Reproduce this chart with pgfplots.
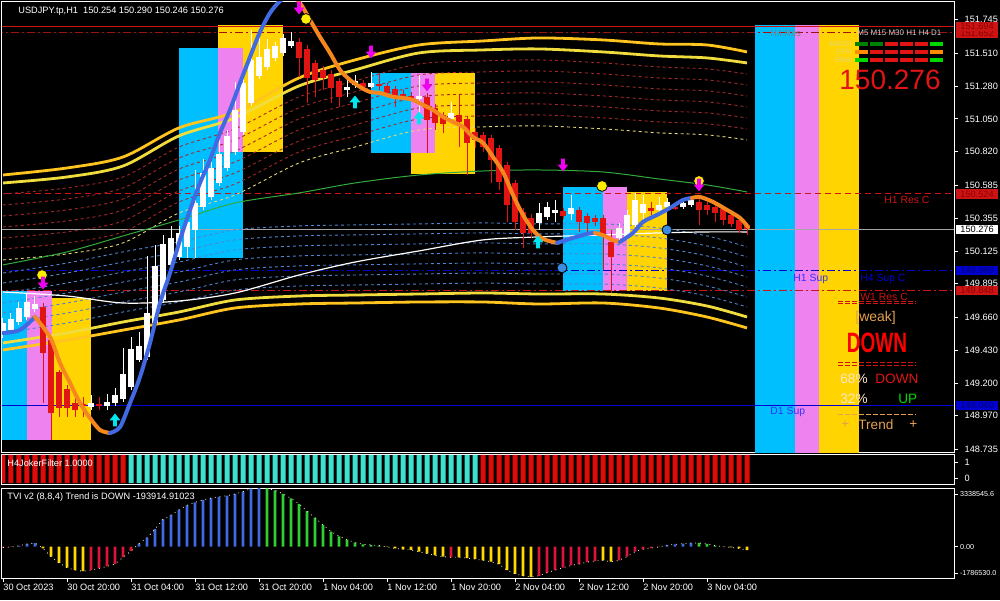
\documentclass[border=0pt]{standalone}
\usepackage{fontspec}
\setmainfont{Liberation Sans}
\usepackage{graphicx}
\usepackage{pgfplots}
\usepackage{pgfplotstable}
\pgfplotsset{compat=1.18}

\definecolor{bxblue}{RGB}{0,191,255}
\definecolor{bxmag}{RGB}{238,130,238}
\definecolor{bxyel}{RGB}{255,212,0}
\definecolor{cred}{RGB}{225,20,20}
\definecolor{ylw}{RGB}{255,196,30}
\definecolor{ylw2}{RGB}{240,220,60}
\definecolor{bdred}{RGB}{165,40,40}
\definecolor{bdyel}{RGB}{230,215,120}
\definecolor{bdblue}{RGB}{80,130,205}
\definecolor{mgreen}{RGB}{50,170,60}
\definecolor{lvred}{RGB}{205,20,20}
\definecolor{lvblue}{RGB}{0,0,210}
\definecolor{crvblue}{RGB}{65,105,225}
\definecolor{crvorg}{RGB}{245,135,30}
\definecolor{arrmag}{RGB}{240,0,240}
\definecolor{arrcyan}{RGB}{0,230,240}
\definecolor{dotblue}{RGB}{60,140,225}
\definecolor{tvred}{RGB}{220,20,60}
\definecolor{tvblue}{RGB}{65,105,225}
\definecolor{tvgreen}{RGB}{50,205,50}
\definecolor{tvyel}{RGB}{255,215,0}
\definecolor{jred}{RGB}{225,10,10}
\definecolor{jcyan}{RGB}{64,224,208}
\definecolor{tanc}{RGB}{230,160,80}

\newcommand\tk{\fontsize{4.6}{5.5}\selectfont}
\newcommand\tks{\fontsize{3.6}{4.5}\selectfont}

\pgfdeclareplotmark{dnarrow}{%
  \pgfpathmoveto{\pgfqpoint{-0.9pt}{3.2pt}}%
  \pgfpathlineto{\pgfqpoint{0.9pt}{3.2pt}}%
  \pgfpathlineto{\pgfqpoint{0.9pt}{0.2pt}}%
  \pgfpathlineto{\pgfqpoint{2.7pt}{0.2pt}}%
  \pgfpathlineto{\pgfqpoint{0pt}{-3.2pt}}%
  \pgfpathlineto{\pgfqpoint{-2.7pt}{0.2pt}}%
  \pgfpathlineto{\pgfqpoint{-0.9pt}{0.2pt}}%
  \pgfpathclose\pgfusepathqfill}
\pgfdeclareplotmark{uparrow}{%
  \pgfpathmoveto{\pgfqpoint{-0.9pt}{-3.2pt}}%
  \pgfpathlineto{\pgfqpoint{0.9pt}{-3.2pt}}%
  \pgfpathlineto{\pgfqpoint{0.9pt}{-0.2pt}}%
  \pgfpathlineto{\pgfqpoint{2.7pt}{-0.2pt}}%
  \pgfpathlineto{\pgfqpoint{0pt}{3.2pt}}%
  \pgfpathlineto{\pgfqpoint{-2.7pt}{-0.2pt}}%
  \pgfpathlineto{\pgfqpoint{-0.9pt}{-0.2pt}}%
  \pgfpathclose\pgfusepathqfill}

% H1 candles: bar index, open, high, low, close
\pgfplotstableread{
i o h l c
0 149.549 149.655 149.514 149.620
1 149.570 149.690 149.549 149.648
2 149.627 149.767 149.605 149.725
3 149.662 149.830 149.641 149.767
4 149.718 149.809 149.697 149.753
5 149.732 149.760 149.059 149.409
6 149.500 149.514 148.800 148.989
7 149.276 149.290 148.961 149.024
8 149.157 149.185 148.961 149.024
9 149.059 149.101 148.961 149.010
10 149.052 149.101 148.961 149.038
11 149.031 149.115 149.010 149.059
12 149.052 149.101 149.010 149.038
13 149.038 149.122 149.010 149.066
14 149.059 149.164 149.038 149.115
15 149.087 149.444 149.066 149.262
16 149.171 149.521 149.150 149.437
17 149.360 149.556 149.346 149.458
18 149.381 150.090 149.360 149.690
19 149.620 150.167 149.598 150.020
20 149.781 150.237 149.760 150.174
21 150.027 150.300 150.006 150.216
22 150.083 150.300 150.062 150.251
23 150.153 150.377 150.076 150.328
24 150.272 150.692 150.076 150.461
25 150.433 150.769 150.412 150.671
26 150.503 150.748 150.482 150.706
27 150.601 150.903 150.580 150.804
28 150.706 150.973 150.685 150.931
29 150.818 151.309 150.797 151.113
30 150.959 151.372 150.938 151.302
31 151.162 151.673 151.141 151.463
32 151.351 151.687 151.330 151.484
33 151.414 151.610 151.393 151.540
34 151.477 151.589 151.456 151.561
35 151.512 151.645 151.491 151.617
36 151.561 151.659 151.547 151.596
37 151.589 151.617 151.344 151.477
38 151.540 151.568 151.162 151.337
39 151.442 151.463 151.204 151.323
40 151.393 151.421 151.253 151.337
41 151.365 151.393 151.162 151.267
42 151.316 151.337 151.134 151.204
43 151.253 151.337 151.204 151.274
44 151.288 151.358 151.267 151.316
45 151.302 151.323 151.253 151.274
46 151.274 151.379 151.267 151.302
47 151.295 151.372 151.253 151.281
48 151.281 151.302 151.211 151.232
49 151.260 151.281 151.134 151.204
50 151.225 151.253 151.183 151.204
51 151.211 151.239 151.183 151.197
52 151.190 151.358 151.078 151.211
53 151.204 151.232 150.811 151.043
54 151.127 151.155 150.973 151.022
55 151.078 151.099 150.952 151.015
56 151.050 151.169 151.022 151.092
57 151.078 151.218 150.853 151.029
58 151.050 151.071 150.657 150.882
59 150.959 150.987 150.846 150.903
60 150.938 150.959 150.818 150.853
61 150.917 150.938 150.601 150.762
62 150.846 150.868 150.552 150.608
63 150.727 150.748 150.328 150.447
64 150.601 150.622 150.272 150.328
65 150.398 150.426 150.146 150.251
66 150.356 150.384 150.216 150.251
67 150.321 150.461 150.272 150.391
68 150.363 150.468 150.342 150.433
69 150.391 150.482 150.328 150.412
70 150.405 150.426 150.349 150.370
71 150.384 150.517 150.342 150.426
72 150.412 150.433 150.258 150.328
73 150.370 150.391 150.258 150.321
74 150.356 150.377 150.300 150.328
75 150.356 150.377 149.992 150.237
76 150.188 150.272 149.830 150.083
77 150.216 150.321 150.188 150.286
78 150.223 150.412 150.202 150.377
79 150.307 150.531 150.286 150.482
80 150.391 150.517 150.342 150.454
81 150.426 150.468 150.377 150.405
82 150.412 150.503 150.391 150.447
83 150.433 150.496 150.412 150.468
84 150.433 150.461 150.412 150.419
85 150.433 150.468 150.419 150.461
86 150.447 150.496 150.433 150.482
87 150.468 150.489 150.307 150.412
88 150.447 150.468 150.377 150.412
89 150.433 150.447 150.328 150.391
90 150.419 150.433 150.307 150.342
91 150.377 150.391 150.293 150.314
92 150.342 150.356 150.251 150.272
93 150.307 150.321 150.237 150.276
}\candles

% envelope bands: outer/inner upper, dashed upper levels, centre, white MA, dashed lower levels, inner/outer lower
\pgfplotstableread{
i U1 U2 u1 u2 u3 u4 u5 u6 u7 G W d1 d2 d3 d4 d5 d6 d7 L2 L1
0 150.657 150.601 150.524 150.447 150.370 150.293 150.216 150.139 150.062 150.027 149.837 149.550 149.620 149.690 149.760 149.830 149.900 149.970 149.480 149.431
8 150.706 150.643 150.566 150.489 150.412 150.335 150.258 150.181 150.104 150.118 149.809 149.620 149.690 149.760 149.830 149.900 149.970 150.040 149.550 149.500
15 150.783 150.720 150.643 150.566 150.489 150.412 150.335 150.258 150.181 150.230 149.760 149.697 149.767 149.837 149.907 149.977 150.047 150.118 149.627 149.570
22 150.987 150.931 150.853 150.776 150.699 150.622 150.545 150.468 150.391 150.342 149.774 149.767 149.837 149.907 149.977 150.047 150.118 150.188 149.697 149.641
29 151.099 151.057 150.980 150.903 150.825 150.748 150.671 150.594 150.517 150.461 149.830 149.851 149.922 149.992 150.062 150.132 150.202 150.272 149.781 149.725
37 151.337 151.281 151.204 151.127 151.050 150.973 150.895 150.818 150.741 150.531 149.956 149.879 149.949 150.020 150.090 150.160 150.230 150.300 149.809 149.753
44 151.463 151.393 151.316 151.239 151.162 151.085 151.008 150.931 150.853 150.601 150.047 149.886 149.956 150.027 150.097 150.167 150.237 150.307 149.816 149.760
52 151.568 151.512 151.435 151.358 151.281 151.204 151.127 151.050 150.973 150.657 150.125 149.893 149.963 150.034 150.104 150.174 150.244 150.314 149.823 149.767
60 151.596 151.533 151.456 151.379 151.302 151.225 151.148 151.071 150.994 150.685 150.202 149.900 149.970 150.040 150.111 150.181 150.251 150.321 149.830 149.767
67 151.617 151.540 151.463 151.386 151.309 151.232 151.155 151.078 151.001 150.692 150.223 149.893 149.963 150.034 150.104 150.174 150.244 150.314 149.823 149.753
75 151.603 151.519 151.442 151.365 151.288 151.211 151.134 151.057 150.980 150.678 150.237 149.893 149.963 150.034 150.104 150.174 150.244 150.314 149.823 149.760
82 151.575 151.491 151.414 151.337 151.260 151.183 151.106 151.029 150.952 150.629 150.251 149.865 149.935 150.006 150.076 150.146 150.216 150.286 149.795 149.725
88 151.568 151.477 151.400 151.323 151.246 151.169 151.092 151.015 150.938 150.587 150.258 149.809 149.879 149.949 150.020 150.090 150.160 150.230 149.739 149.662
93 151.519 151.442 151.365 151.288 151.211 151.134 151.057 150.980 150.903 150.538 150.258 149.732 149.802 149.872 149.942 150.012 150.083 150.153 149.662 149.585
}\bands

% TVI value and colour code (1 red, 2 blue, 3 green, 4 yellow); joker value and colour (1 red, 2 cyan)
\pgfplotstableread{
i tvi tc jv jc
0 -50000 1 1 1
1 -20000 1 1 1
2 50000 2 1 1
3 150000 2 1 1
4 200000 2 1 1
5 -100000 4 1 1
6 -570000 4 1 1
7 -920000 4 1 1
8 -1200000 4 1 1
9 -1340000 4 1 1
10 -1400000 4 1 1
11 -1340000 1 1 1
12 -1240000 1 1 1
13 -1130000 1 1 1
14 -990000 1 1 1
15 -610000 1 1 1
16 -250000 1 1 2
17 170000 2 1 2
18 500000 2 1 2
19 1000000 2 1 2
20 1550000 2 1 2
21 1800000 2 1 2
22 2100000 2 1 2
23 2350000 2 1 2
24 2520000 2 1 2
25 2660000 2 1 2
26 2760000 2 1 2
27 2840000 2 1 2
28 2900000 2 1 2
29 3000000 2 1 2
30 3130000 2 1 2
31 3300000 2 1 2
32 3338545 2 1 2
33 3320000 3 1 2
34 3210000 3 1 2
35 3000000 3 1 2
36 2750000 3 1 2
37 2440000 3 1 2
38 2020000 3 1 2
39 1640000 3 1 2
40 1240000 3 1 2
41 860000 3 1 2
42 590000 3 1 2
43 400000 3 1 2
44 230000 3 1 2
45 130000 3 1 2
46 100000 3 1 2
47 60000 3 1 2
48 -20000 4 1 2
49 -100000 4 1 2
50 -150000 4 1 2
51 -190000 4 1 2
52 -290000 4 1 2
53 -400000 4 1 2
54 -500000 4 1 2
55 -570000 4 1 2
56 -610000 1 1 2
57 -610000 4 1 2
58 -650000 4 1 2
59 -710000 4 1 2
60 -780000 4 1 1
61 -860000 4 1 1
62 -1000000 4 1 1
63 -1340000 4 1 1
64 -1550000 4 1 1
65 -1660000 4 1 1
66 -1720000 4 1 1
67 -1660000 1 1 1
68 -1490000 1 1 1
69 -1340000 1 1 1
70 -1200000 1 1 1
71 -1070000 1 1 1
72 -990000 1 1 1
73 -880000 1 1 1
74 -820000 1 1 1
75 -780000 4 1 1
76 -860000 4 1 1
77 -780000 1 1 1
78 -570000 1 1 1
79 -290000 1 1 1
80 -150000 1 1 1
81 -80000 1 1 1
82 -20000 1 1 1
83 80000 2 1 1
84 130000 2 1 1
85 170000 2 1 1
86 210000 2 1 1
87 210000 3 1 1
88 150000 3 1 1
89 60000 3 1 1
90 -5000 4 1 1
91 -40000 4 1 1
92 -100000 4 1 1
93 -193914.91 4 1 1
}\osc

\pgfplotsset{
  mt/.style={
    scale only axis, width=476pt, anchor=south west,
    xmin=-0.125, xmax=118.875,
    axis line style={white, line width=0.5pt},
    tick align=outside, ytick pos=right, xtick pos=left,
    major tick length=1.8pt, tick style={white, line width=0.4pt},
    tick label style={font=\tk, text=white},
    scaled ticks=false,
  },
  box/.style={fill=#1, draw=none, forget plot},
  band/.style={smooth, line width=#1},
  lvl/.style={line width=0.5pt, #1},
  nomark/.style={only marks, mark=*, mark size=0pt, mark options={draw=none, fill=none}},
}

\begin{document}
\begin{tikzpicture}
\useasboundingbox (0,0) rectangle (500pt,300pt);
\fill[black] (0,0) rectangle (500pt,300pt);

% ---------------- price panel
\begin{axis}[mt, at={(1pt,74pt)}, height=225pt,
  ymin=148.716, ymax=151.869, xtick=\empty,
  ytick={151.745,151.510,151.280,151.050,150.820,150.585,150.355,150.125,149.895,149.660,149.430,149.200,148.970,148.735},
  yticklabels={151.745,151.510,151.280,151.050,150.820,150.585,150.355,150.125,149.895,149.660,149.430,149.200,148.970,148.735}]

% zone boxes
\addplot[box=bxblue] coordinates {(-0.2,149.844) (3,149.844) (3,148.800) (-0.2,148.800)};
\addplot[box=bxmag] coordinates {(3,149.844) (6.125,149.844) (6.125,148.800) (3,148.800)};
\addplot[box=bxyel] coordinates {(6.125,149.795) (11,149.795) (11,148.800) (6.125,148.800)};
\addplot[box=bxblue] coordinates {(22,151.547) (30,151.547) (30,150.076) (22,150.076)};
\addplot[box=bxyel] coordinates {(26.875,151.708) (35,151.708) (35,150.818) (26.875,150.818)};
\addplot[box=bxmag] coordinates {(26.875,151.547) (30,151.547) (30,150.818) (26.875,150.818)};
\addplot[box=bxblue] coordinates {(46,151.372) (51,151.372) (51,150.811) (46,150.811)};
\addplot[box=bxyel] coordinates {(51,151.372) (59,151.372) (59,150.664) (51,150.664)};
\addplot[box=bxmag] coordinates {(51,151.372) (54,151.372) (54,150.811) (51,150.811)};
\addplot[box=bxblue] coordinates {(70,150.573) (75,150.573) (75,149.844) (70,149.844)};
\addplot[box=bxmag] coordinates {(75,150.573) (78,150.573) (78,149.844) (75,149.844)};
\addplot[box=bxyel] coordinates {(78,150.538) (83,150.538) (83,149.844) (78,149.844)};
\addplot[box=bxblue] coordinates {(94,151.708) (99,151.708) (99,148.700) (94,148.700)};
\addplot[box=bxmag] coordinates {(99,151.708) (102,151.708) (102,148.700) (99,148.700)};
\addplot[box=bxyel] coordinates {(102,151.708) (107,151.708) (107,148.700) (102,148.700)};

% support / resistance levels
\addplot[lvl=lvred] coordinates {(-1,151.694) (120,151.694)};
\addplot[lvl=lvred!80!black, dash pattern=on 4pt off 1.5pt on 1pt off 1.5pt] coordinates {(-1,151.652) (120,151.652)};
\addplot[lvl=lvred, dash pattern=on 3pt off 2pt] coordinates {(-1,150.524) (120,150.524)};
\addplot[lvl=gray!70] coordinates {(-1,150.276) (120,150.276)};
\addplot[lvl=lvblue, dash pattern=on 4pt off 1.5pt on 1pt off 1.5pt] coordinates {(-1,149.988) (120,149.988)};
\addplot[lvl=lvred, dash pattern=on 4pt off 1.5pt on 1pt off 1.5pt] coordinates {(-1,149.848) (120,149.848)};
\addplot[lvl=lvblue] coordinates {(-1,149.040) (120,149.040)};

% envelope bands
\pgfplotsinvokeforeach{u1,u2,u3,u4,u5,u6}{
  \addplot[band=0.45pt, bdred, dash pattern=on 1.5pt off 1.5pt] table[x=i,y=#1]{\bands};}
\addplot[band=0.45pt, bdyel, dash pattern=on 1.5pt off 1.5pt] table[x=i,y=u7]{\bands};
\pgfplotsinvokeforeach{d1,d2,d3,d4,d5,d6,d7}{
  \addplot[band=0.45pt, bdblue, dash pattern=on 1.5pt off 1.5pt] table[x=i,y=#1]{\bands};}
\addplot[band=0.5pt, mgreen] table[x=i,y=G]{\bands};
\addplot[band=0.6pt, white] table[x=i,y=W]{\bands};
\addplot[band=1.4pt, ylw] table[x=i,y=U1]{\bands};
\addplot[band=1.4pt, ylw2] table[x=i,y=U2]{\bands};
\addplot[band=1.4pt, ylw2] table[x=i,y=L2]{\bands};
\addplot[band=1.4pt, ylw] table[x=i,y=L1]{\bands};

% candles: wicks then bodies
\addplot[nomark, restrict expr to domain={\thisrow{c}-\thisrow{o}}{0:10},
  error bars/.cd, y dir=both, y explicit, error mark=none, error bar style={line width=0.5pt, white}]
  table[x=i, y expr={(\thisrow{h}+\thisrow{l})/2}, y error expr={(\thisrow{h}-\thisrow{l})/2}]{\candles};
\addplot[nomark, restrict expr to domain={\thisrow{c}-\thisrow{o}}{-10:0},
  error bars/.cd, y dir=both, y explicit, error mark=none, error bar style={line width=0.5pt, cred}]
  table[x=i, y expr={(\thisrow{h}+\thisrow{l})/2}, y error expr={(\thisrow{h}-\thisrow{l})/2}]{\candles};
\addplot[nomark, restrict expr to domain={\thisrow{c}-\thisrow{o}}{0:10},
  error bars/.cd, y dir=both, y explicit, error mark=none, error bar style={line width=2.6pt, white}]
  table[x=i, y expr={(\thisrow{o}+\thisrow{c})/2}, y error expr={abs(\thisrow{c}-\thisrow{o})/2}]{\candles};
\addplot[nomark, restrict expr to domain={\thisrow{c}-\thisrow{o}}{-10:0},
  error bars/.cd, y dir=both, y explicit, error mark=none, error bar style={line width=2.6pt, cred}]
  table[x=i, y expr={(\thisrow{o}+\thisrow{c})/2}, y error expr={abs(\thisrow{c}-\thisrow{o})/2}]{\candles};

% trend curve
\addplot[crvblue, line width=2pt, smooth, line cap=round] coordinates {(0,149.550) (2.125,149.571) (4,149.662)};
\addplot[crvorg, line width=2pt, smooth, line cap=round] coordinates {(4,149.662) (5.875,149.521) (7.125,149.340) (8.375,149.200) (9.625,149.059) (10.875,148.954) (12.125,148.870) (13.375,148.849)};
\addplot[crvblue, line width=2pt, smooth, line cap=round] coordinates {(13.375,148.849) (14.625,148.891) (15.875,149.059) (17.125,149.242) (18.375,149.480) (19.625,149.760) (20.875,149.970) (22.125,150.202) (23.375,150.412) (24.625,150.601) (25.875,150.762) (27.125,150.952) (28.375,151.113) (29.625,151.302) (30.875,151.484) (32.125,151.659) (33.375,151.792) (34.625,151.876) (35.875,151.926)};
\addplot[crvorg, line width=2pt, smooth, line cap=round] coordinates {(35.875,151.926) (37.125,151.862) (38.375,151.743) (39.625,151.624) (40.875,151.512) (42.125,151.393) (43.375,151.323) (44.625,151.274) (45.875,151.239) (47.125,151.232) (48.75,151.204) (50,151.197) (51.25,151.183) (52.5,151.148) (53.75,151.113) (55,151.064) (56.25,151.029) (57.5,150.994) (58.75,150.923) (60,150.882) (61.25,150.783) (62.5,150.678) (63.75,150.517) (65,150.377) (66.25,150.272) (67.5,150.209) (69.25,150.181)};
\addplot[crvblue, line width=2pt, smooth, line cap=round] coordinates {(69.25,150.181) (71.25,150.216) (73,150.244) (74,150.251)};
\addplot[crvorg, line width=2pt, smooth, line cap=round] coordinates {(74,150.251) (75.25,150.230) (76.125,150.202) (77.125,150.188)};
\addplot[crvblue, line width=2pt, smooth, line cap=round] coordinates {(77.125,150.188) (78.75,150.251) (80,150.328) (81.75,150.377) (83.375,150.426) (85,150.482) (86.125,150.496)};
\addplot[crvorg, line width=2pt, smooth, line cap=round] coordinates {(86.125,150.496) (87.125,150.503) (88.75,150.468) (90.5,150.412) (92.125,150.356) (93.125,150.293)};

% signal markers
\addplot[only marks, mark=*, mark size=2.7pt, mark options={fill=yellow!95!orange, draw=none}] coordinates {(4.875,149.956) (37.875,151.750) (74.875,150.580) (87,150.615)};
\addplot[only marks, mark=*, mark size=2.5pt, mark options={fill=dotblue, draw=none}] coordinates {(69.875,150.006) (83,150.272)};
\addplot[only marks, mark=dnarrow, mark options={fill=arrmag, draw=none}] coordinates {(5,149.900) (37,151.827) (46,151.519) (53,151.288) (70,150.727) (87,150.587)};
\addplot[only marks, mark=uparrow, mark options={fill=arrcyan, draw=none}] coordinates {(14,148.941) (44,151.169) (52,151.057) (66.875,150.188)};

% multi-timeframe dashboard
\addplot[only marks, mark=-, mark size=3.25pt, mark options={line width=1.8pt, draw=green!50!black}] coordinates {(107.31,151.573) (109.19,151.573)};
\addplot[only marks, mark=-, mark size=3.25pt, mark options={line width=1.8pt, draw=cred}] coordinates {(111.06,151.573) (112.94,151.573) (114.81,151.573) (109.19,151.519) (111.06,151.519) (112.94,151.519) (114.81,151.519) (109.19,151.463) (111.06,151.463) (112.94,151.463) (114.81,151.463)};
\addplot[only marks, mark=-, mark size=3.25pt, mark options={line width=1.8pt, draw=orange!90!yellow}] coordinates {(107.31,151.519) (116.69,151.519)};
\addplot[only marks, mark=-, mark size=3.25pt, mark options={line width=1.8pt, draw=green!85!black}] coordinates {(116.69,151.573) (107.31,151.463) (116.69,151.463)};
\end{axis}

% ---------------- H4JokerFilter panel
\begin{axis}[mt, at={(1pt,58pt)}, height=15pt, ymin=-0.03, ymax=1.03,
  xtick=\empty, ytick={0.182,0.747}, yticklabels={0,1}]
\addplot[ybar, bar width=2.5pt, bar shift=0pt, fill=jred, draw=none,
  restrict expr to domain={\thisrow{jc}}{1:1}] table[x=i,y=jv]{\osc};
\addplot[ybar, bar width=2.5pt, bar shift=0pt, fill=jcyan, draw=none,
  restrict expr to domain={\thisrow{jc}}{2:2}] table[x=i,y=jv]{\osc};
\end{axis}

% ---------------- TVI panel
\begin{axis}[mt, at={(1pt,11pt)}, height=45pt, ymin=-1786530, ymax=3338545.6,
  ytick={-1501800,0,2996900}, yticklabels={-1786530.0,0.00,3338545.6},
  yticklabel style={font=\tks, inner xsep=1pt},
  xtick={0,8,16,24,32,40,48,56,64,72,80,88},
  xticklabels={30 Oct 2023,30 Oct 20:00,31 Oct 04:00,31 Oct 12:00,31 Oct 20:00,1 Nov 04:00,1 Nov 12:00,1 Nov 20:00,2 Nov 04:00,2 Nov 12:00,2 Nov 20:00,3 Nov 04:00},
  xticklabel style={anchor=north west, inner sep=0pt, yshift=-1pt}]
\addplot[ybar, bar width=1.3pt, bar shift=0pt, fill=tvred, draw=none,
  restrict expr to domain={\thisrow{tc}}{1:1}] table[x=i,y=tvi]{\osc};
\addplot[ybar, bar width=1.3pt, bar shift=0pt, fill=tvblue, draw=none,
  restrict expr to domain={\thisrow{tc}}{2:2}] table[x=i,y=tvi]{\osc};
\addplot[ybar, bar width=1.3pt, bar shift=0pt, fill=tvgreen, draw=none,
  restrict expr to domain={\thisrow{tc}}{3:3}] table[x=i,y=tvi]{\osc};
\addplot[ybar, bar width=1.3pt, bar shift=0pt, fill=tvyel, draw=none,
  restrict expr to domain={\thisrow{tc}}{4:4}] table[x=i,y=tvi]{\osc};
\addplot[white!85!yellow, dotted, line width=0.4pt] table[x=i,y=tvi]{\osc};
\end{axis}

% ---------------- texts and price tags (pixel frame)
\begin{scope}[x=0.5pt, y=-0.5pt, yshift=300pt, every node/.style={inner sep=0pt, anchor=west}]
\node[font=\tk, text=white] at (18,11) {USDJPY.tp,H1\ \ 150.254 150.290 150.246 150.276};
\node[font=\tk, text=white] at (7,463) {H4JokerFilter 1.0000};
\node[font=\tk, text=white] at (7,497) {TVI v2 (8,8,4) Trend is DOWN -193914.91023};

\node[font=\tk, fill=lvred, text=red!55!black, inner xsep=2pt, inner ysep=0.7pt] at (956,33) {151.652};
\node[font=\tk, fill=lvred, text=red!55!black, inner xsep=2pt, inner ysep=0.7pt] at (956,26.5) {151.694};
\node[font=\tk, fill=lvred, text=red!55!black, inner xsep=2pt, inner ysep=0.7pt] at (956,194) {150.524};
\node[font=\tk, fill=white, text=black, inner xsep=2pt, inner ysep=0.7pt] at (956,229.4) {150.276};
\node[font=\tk, fill=lvblue, text=blue!45!black, inner xsep=2pt, inner ysep=0.7pt] at (956,270.5) {149.988};
\node[font=\tk, fill=lvred, text=red!55!black, inner xsep=2pt, inner ysep=0.7pt] at (956,290.5) {149.848};
\node[font=\tk, fill=lvblue, text=blue!45!black, inner xsep=2pt, inner ysep=0.7pt] at (956,405.8) {149.040};

\node[font=\tk, text=gray] at (770,33) {H4 Res};
\node[font=\fontsize{4}{5}\selectfont, text=gray!40] at (857,33) {M5 M15 M30 H1 H4 D1};
\node[font=\fontsize{3.8}{4.5}\selectfont, text=bdyel, anchor=east] at (852,44) {MACD};
\node[font=\fontsize{3.8}{4.5}\selectfont, text=bdyel, anchor=east] at (852,52) {STR};
\node[font=\fontsize{3.8}{4.5}\selectfont, text=bdyel, anchor=east] at (852,60) {EMA};
\node[font=\fontsize{14}{14}\selectfont, text=cred] at (839,80) {150.276};

\node[font=\fontsize{5.2}{6}\selectfont, text=lvred] at (884,200) {H1 Res C};
\node[font=\fontsize{5.2}{6}\selectfont, text=blue!80!white] at (793,279) {H1 Sup};
\node[font=\fontsize{5.2}{6}\selectfont, text=lvblue] at (860,279) {H4 Sup C};
\node[font=\fontsize{5.2}{6}\selectfont, text=lvred] at (860,297) {W1 Res C};
\node[font=\fontsize{5.2}{6}\selectfont, text=blue!80!white] at (770,412) {D1 Sup};

\draw[lvred, line width=0.4pt, dash pattern=on 2.5pt off 1pt] (838,301)--(916,301) (838,303.6)--(916,303.6);
\draw[lvred, line width=0.4pt, dash pattern=on 2.5pt off 1pt] (838,362.6)--(916,362.6) (838,365.2)--(916,365.2);
\draw[tanc, line width=0.4pt, dash pattern=on 2.5pt off 1pt] (838,414.5)--(916,414.5);

\node[font=\fontsize{7}{8}\selectfont, text=tanc] at (855,318) {[weak]};
\node[anchor=center, text=red] at (877,343) {\scalebox{0.68}[1]{\fontsize{14}{14}\selectfont\bfseries DOWN}};
\node[font=\fontsize{6.8}{8}\selectfont, text=orange!20!white] at (840,379) {68\%};
\node[font=\fontsize{6.8}{8}\selectfont, text=cred] at (875,379) {DOWN};
\node[font=\fontsize{6.8}{8}\selectfont, text=orange!20!white] at (840,399) {32\%};
\node[font=\fontsize{6.8}{8}\selectfont, text=green!85!black] at (898,399) {UP};
\node[font=\fontsize{6.8}{8}\selectfont, text=tanc] at (841,425) {+};
\node[font=\fontsize{6.8}{8}\selectfont, text=tanc] at (858,425) {Trend};
\node[font=\fontsize{6.8}{8}\selectfont, text=tanc] at (909,425) {+};
\end{scope}
\end{tikzpicture}
\end{document}
